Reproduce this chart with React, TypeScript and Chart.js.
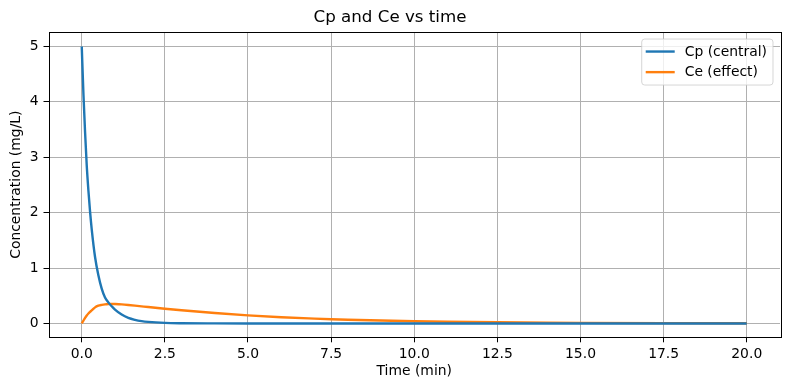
import React, { useEffect, useRef } from "react";
import { Chart, registerables } from "chart.js";

Chart.register(...registerables);

const timeMin = [0, 0.05, 0.1, 0.15, 0.2, 0.25, 0.3, 0.4, 0.5, 0.6, 0.7, 0.8, 0.9, 1.0, 1.2, 1.4, 1.6, 1.8, 2.0, 2.5, 3, 4, 5, 6, 7, 7.5, 8, 9, 10, 11, 12.5, 14, 15, 17.5, 20];
const cpValues = [5, 4.15, 3.45, 2.85, 2.4, 2.02, 1.7, 1.2, 0.87, 0.63, 0.47, 0.38, 0.31, 0.25, 0.16, 0.1, 0.065, 0.042, 0.028, 0.01, 0.004, 0.001, 0, 0, 0, 0, 0, 0, 0, 0, 0, 0, 0, 0, 0];
const ceValues = [0, 0.05, 0.1, 0.145, 0.18, 0.21, 0.235, 0.29, 0.32, 0.335, 0.345, 0.35, 0.352, 0.35, 0.344, 0.334, 0.322, 0.309, 0.296, 0.265, 0.237, 0.188, 0.146, 0.112, 0.087, 0.076, 0.067, 0.052, 0.04, 0.031, 0.021, 0.014, 0.011, 0.006, 0.003];
const xTicks = [0, 2.5, 5, 7.5, 10, 12.5, 15, 17.5, 20];
const yTicks = [0, 1, 2, 3, 4, 5];
const seriesLabels = ["Cp (central)", "Ce (effect)"];
const seriesColors = ["#1f77b4", "#ff7f0e"];

const FONT = "'DejaVu Sans', sans-serif";

const framePlugin = {
  id: "frameAndLegend",
  afterDraw(chart: any) {
    const ctx = chart.ctx;
    const a = chart.chartArea;
    ctx.save();
    ctx.strokeStyle = "#000";
    ctx.lineWidth = 1;
    ctx.strokeRect(Math.round(a.left) + 0.5, Math.round(a.top) + 0.5, Math.round(a.right - a.left), Math.round(a.bottom - a.top));

    const ds = chart.data.datasets;
    ctx.font = `13.9px ${FONT}`;
    let maxW = 0;
    ds.forEach((d: any) => { maxW = Math.max(maxW, ctx.measureText(d.label).width); });
    const boxW = 43 + maxW + 6;
    const boxH = 46;
    const bx = a.right - 7 - boxW;
    const by = a.top + 7;
    const r = 3;
    ctx.beginPath();
    ctx.moveTo(bx + r, by);
    ctx.lineTo(bx + boxW - r, by);
    ctx.quadraticCurveTo(bx + boxW, by, bx + boxW, by + r);
    ctx.lineTo(bx + boxW, by + boxH - r);
    ctx.quadraticCurveTo(bx + boxW, by + boxH, bx + boxW - r, by + boxH);
    ctx.lineTo(bx + r, by + boxH);
    ctx.quadraticCurveTo(bx, by + boxH, bx, by + boxH - r);
    ctx.lineTo(bx, by + r);
    ctx.quadraticCurveTo(bx, by, bx + r, by);
    ctx.closePath();
    ctx.fillStyle = "rgba(255,255,255,0.8)";
    ctx.fill();
    ctx.strokeStyle = "rgba(204,204,204,0.8)";
    ctx.lineWidth = 1;
    ctx.stroke();
    ds.forEach((d: any, i: number) => {
      const y = by + 12.5 + i * 20.6;
      ctx.strokeStyle = d.borderColor;
      ctx.lineWidth = 2.4;
      ctx.beginPath();
      ctx.moveTo(bx + 4, y);
      ctx.lineTo(bx + 33, y);
      ctx.stroke();
      ctx.fillStyle = "#000";
      ctx.textBaseline = "middle";
      ctx.textAlign = "left";
      ctx.fillText(d.label, bx + 43, y + 0.5);
    });
    ctx.restore();
  },
};

export default function App() {
  const ref = useRef<HTMLCanvasElement>(null);
  useEffect(() => {
    if (!ref.current) return;
    const mk = (vals: number[]) => timeMin.map((t, i) => ({ x: t, y: vals[i] }));
    const chart = new Chart(ref.current, {
      type: "line",
      data: {
        datasets: [
          { label: seriesLabels[0], data: mk(cpValues), borderColor: seriesColors[0], backgroundColor: seriesColors[0], borderWidth: 2.4, pointRadius: 0, cubicInterpolationMode: "monotone" },
          { label: seriesLabels[1], data: mk(ceValues), borderColor: seriesColors[1], backgroundColor: seriesColors[1], borderWidth: 2.4, pointRadius: 0, cubicInterpolationMode: "monotone" },
        ],
      },
      options: {
        animation: false,
        responsive: false,
        devicePixelRatio: 1,
        layout: { padding: { left: 0, right: 10, top: 0, bottom: 0 } },
        plugins: {
          legend: { display: false },
          tooltip: { enabled: false },
          title: {
            display: true,
            text: "Cp and Ce vs time",
            color: "#000",
            font: { family: FONT, size: 16.7, weight: "normal" },
            padding: { top: 8, bottom: 4 },
          },
        },
        scales: {
          x: {
            type: "linear",
            min: -1,
            max: 21,
            afterBuildTicks: (s: any) => { s.ticks = xTicks.map((v) => ({ value: v })); },
            afterFit: (s: any) => { s.height = 52.7; },
            ticks: {
              color: "#000",
              font: { family: FONT, size: 13.9 },
              padding: 4,
              maxRotation: 0,
              autoSkip: false,
              callback: (v: any) => Number(v).toFixed(1),
            },
            grid: { color: "#b0b0b0", lineWidth: 1, tickColor: "#000", tickLength: 5, drawTicks: true },
            border: { display: false },
            title: { display: true, text: "Time (min)", color: "#000", font: { family: FONT, size: 13.9 }, padding: { top: 0, bottom: 10 } },
          },
          y: {
            type: "linear",
            min: -0.25,
            max: 5.26,
            afterBuildTicks: (s: any) => { s.ticks = yTicks.map((v) => ({ value: v })); },
            afterFit: (s: any) => { s.width = 48.5; },
            ticks: {
              color: "#000",
              font: { family: FONT, size: 13.9 },
              padding: 5,
              autoSkip: false,
              callback: (v: any) => String(v),
            },
            grid: { color: "#b0b0b0", lineWidth: 1, tickColor: "#000", tickLength: 5, drawTicks: true },
            border: { display: false },
            title: { display: true, text: "Concentration (mg/L)", color: "#000", font: { family: FONT, size: 13.9 }, padding: { top: 8, bottom: 0 } },
          },
        },
      } as any,
      plugins: [framePlugin],
    });
    return () => chart.destroy();
  }, []);
  return (
    <div style={{ position: "fixed", left: 0, top: 0, width: 790, height: 390, background: "#fff" }}>
      <canvas ref={ref} width={790} height={390} style={{ width: 790, height: 390 }} />
    </div>
  );
}
